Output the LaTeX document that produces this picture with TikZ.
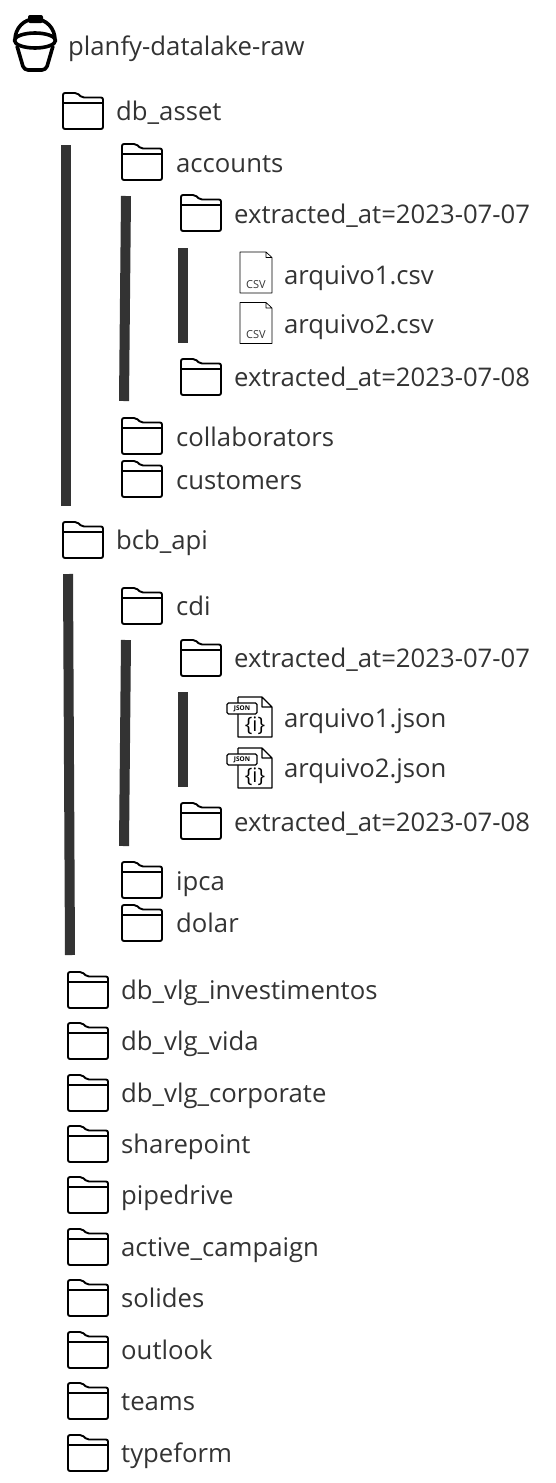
\documentclass[tikz,border=0pt]{standalone}
\usepackage{fontspec}
\setmainfont{Open Sans}
\usepackage{xcolor}
\usetikzlibrary{positioning,calc}
\definecolor{ink}{HTML}{333333}

\begin{document}
\begin{tikzpicture}[x=1pt,y=-1pt,
  lbl/.style={anchor=base west,inner sep=0pt,text=ink,font=\fontsize{25.7}{30}\selectfont},
  bar/.style={draw=ink,line width=10pt},
  folder/.pic={
    \draw[line width=1.9pt,rounded corners=2pt,line join=round]
      (0,-18) -- (14,-18) -- (19,-13.5) -- (40,-13.5) -- (40,18) -- (0,18) -- cycle;
    \draw[line width=1.9pt] (0,-8) -- (40,-8);},
  csvfile/.pic={
    \draw[line width=.7pt,line join=round]
      (0,-20.5) -- (26,-20.5) -- (32,-15) -- (32,20.5) -- (0,20.5) -- cycle (26,-20.5) -- (26,-15) -- (32,-15);
    \node[inner sep=0pt,text=ink,font=\fontsize{11}{11}\selectfont] (tag) at (16,12) {CSV};},
  jsonfile/.pic={
    \draw[line width=1.2pt,line join=round]
      (10,-19) -- (34,-19) -- (44,-9) -- (44,21) -- (10,21) -- (10,-2)
      (34,-19) -- (34,-9) -- (44,-9) (10,-19) -- (10,-13);
    \node[draw,fill=white,line width=1.2pt,rounded corners=1.5pt,inner sep=0pt,minimum width=30pt,
      minimum height=11pt,font=\bfseries\fontsize{6.5}{7}\selectfont] (tag) at (14,-7.5) {JSON};
    \node[inner sep=0pt,font=\fontsize{20}{20}\selectfont] (brace) at (27,10) {\{i\}};},
  bucket/.pic={
    \draw[line width=3.6pt,line join=round] (35,40.5) ellipse (20.5pt and 7.5pt);
    \draw[line width=3.6pt,line join=round] (15,40) .. controls (15,28) and (24,19) .. (35,19)
      .. controls (46,19) and (55,28) .. (55,40);
    \draw[line width=3.6pt,rounded corners=4pt,line join=round] (17,46) -- (24,70) -- (46,70) -- (53,46);
    \fill[rounded corners=2pt] (28,15) rectangle (43,23);}]
  \useasboundingbox (0,0) rectangle (555,1483);
  % bars
  \draw[bar] (66,145) -- (66,506);
  \draw[bar] (126,196) -- (124,401);
  \draw[bar] (183,248) -- (183,343);
  \draw[bar] (68,574) -- (70,955);
  \draw[bar] (126,640) -- (124,846);
  \draw[bar] (183,692) -- (183,787);
  % bucket
  \pic (bk) at (0,0) {bucket};
  \node[lbl] (root) at (68,55) {planfy-datalake-raw};
  % db_asset
  \pic (fasset) at (63,111) {folder};
  \node[lbl] (asset) at (116,120) {db\_asset};
  \pic (faccounts) at (122,162) {folder};
  \node[lbl] (accounts) at (176,172) {accounts};
  \pic (fext1) at (181,213) {folder};
  \node[lbl] (ext1) at (234,223) {extracted\_at=2023-07-07};
  \pic (csv1) at (240,272.5) {csvfile};
  \node[lbl] (arq1) at (284,284) {arquivo1.csv};
  \pic (csv2) at (240,323) {csvfile};
  \node[lbl] (arq2) at (284,333) {arquivo2.csv};
  \pic (fext2) at (181,377) {folder};
  \node[lbl] (ext2) at (234,386) {extracted\_at=2023-07-08};
  \pic (fcollab) at (122,436) {folder};
  \node[lbl] (collab) at (176,446) {collaborators};
  \pic (fcust) at (122,479) {folder};
  \node[lbl] (cust) at (176,489) {customers};
  % bcb_api
  \pic (fbcb) at (63,540) {folder};
  \node[lbl] (bcb) at (116,549) {bcb\_api};
  \pic (fcdi) at (122,606) {folder};
  \node[lbl] (cdi) at (176,615) {cdi};
  \pic (fext3) at (181,658) {folder};
  \node[lbl] (ext3) at (234,667) {extracted\_at=2023-07-07};
  \pic (json1) at (228,716) {jsonfile};
  \node[lbl] (arq3) at (284,727) {arquivo1.json};
  \pic (json2) at (228,767) {jsonfile};
  \node[lbl] (arq4) at (284,777) {arquivo2.json};
  \pic (fext4) at (181,821) {folder};
  \node[lbl] (ext4) at (234,831) {extracted\_at=2023-07-08};
  \pic (fipca) at (122,880) {folder};
  \node[lbl] (ipca) at (176,890) {ipca};
  \pic (fdolar) at (122,923) {folder};
  \node[lbl] (dolar) at (176,932) {dolar};
  % other sources
  \pic (finv) at (68,990) {folder};
  \node[lbl] (inv) at (121,999) {db\_vlg\_investimentos};
  \pic (fvida) at (68,1041) {folder};
  \node[lbl] (vida) at (121,1050) {db\_vlg\_vida};
  \pic (fcorp) at (68,1093) {folder};
  \node[lbl] (corp) at (121,1102) {db\_vlg\_corporate};
  \pic (fshare) at (68,1144) {folder};
  \node[lbl] (share) at (121,1153) {sharepoint};
  \pic (fpipe) at (68,1195) {folder};
  \node[lbl] (pipe) at (121,1204) {pipedrive};
  \pic (factive) at (68,1247) {folder};
  \node[lbl] (active) at (121,1256) {active\_campaign};
  \pic (fsol) at (68,1298) {folder};
  \node[lbl] (sol) at (121,1307) {solides};
  \pic (fout) at (68,1350) {folder};
  \node[lbl] (out) at (121,1359) {outlook};
  \pic (fteams) at (68,1401) {folder};
  \node[lbl] (teams) at (121,1410) {teams};
  \pic (ftype) at (68,1453) {folder};
  \node[lbl] (type) at (121,1462) {typeform};
\end{tikzpicture}
\end{document}
